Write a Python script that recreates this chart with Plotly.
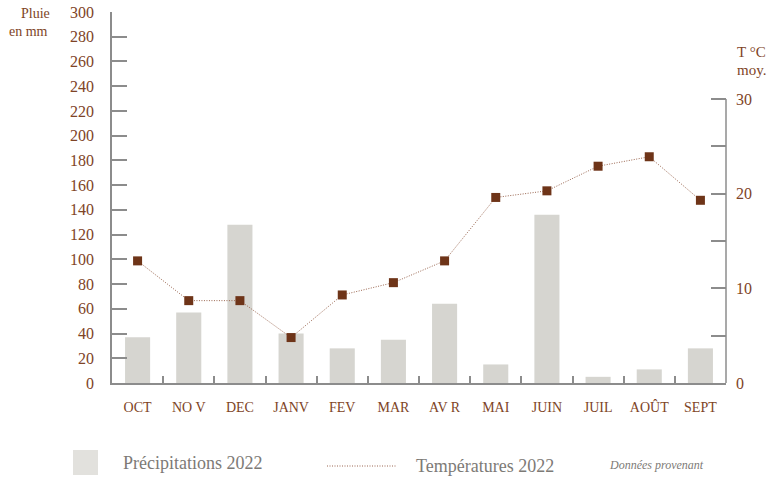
import plotly.graph_objects as go

months = ["OCT", "NO V", "DEC", "JANV", "FEV", "MAR", "AV R", "MAI", "JUIN", "JUIL", "AOÛT", "SEPT"]
rain_mm = [37, 57, 128, 40, 28, 35, 64, 15, 136, 5, 11, 28]
temp_c = [12.9, 8.7, 8.7, 4.8, 9.3, 10.6, 12.9, 19.6, 20.3, 22.9, 23.9, 19.3]
rain_ticks = list(range(0, 301, 20))
temp_ticks = [0, 10, 20, 30]
temp_minor = [5, 15, 25]

W, H = 770, 478
L, R, T, B = 112, 726, 12, 383

def px(x):
    return (x - L) / (R - L)

def py(y):
    return (B - y) / (B - T)

FONT = "Liberation Serif"
BROWN = "#7e4426"
GRAY_TXT = "#7d7a76"
AXIS = "#8c8c8c"
BAR = "#d6d5d0"
DOT = "#9a6650"

fig = go.Figure()
fig.add_trace(go.Bar(x=months, y=rain_mm, marker=dict(color=BAR, line=dict(width=0)),
                     name="Précipitations 2022", showlegend=False, hoverinfo="skip"))
fig.add_trace(go.Scatter(x=months, y=temp_c, yaxis="y2", mode="lines+markers",
                         line=dict(color=DOT, width=1, dash="1px,1.5px"),
                         marker=dict(symbol="square", size=9, color="#6e3418"),
                         name="Températures 2022", showlegend=False, hoverinfo="skip"))

fig.update_layout(
    width=W, height=H,
    margin=dict(l=L, r=W - R, t=T, b=H - B, pad=0, autoexpand=False),
    paper_bgcolor="white", plot_bgcolor="white",
    bargap=0.51,
    font=dict(family=FONT, color=BROWN, size=15),
    xaxis=dict(
        type="category", tickson="boundaries", ticks="inside", ticklen=7,
        tickcolor=AXIS, tickwidth=1.5, showline=True, linecolor=AXIS, linewidth=1.5,
        showgrid=False, zeroline=False, tickfont=dict(family=FONT, size=14, color=BROWN),
        ticklabelstandoff=10, range=[-0.5, 11.5], automargin=False,
    ),
    yaxis=dict(
        range=[0, 300], tickvals=rain_ticks, ticks="inside", ticklen=15,
        tickcolor=AXIS, tickwidth=1.5, showline=True, linecolor=AXIS, linewidth=1.5,
        showgrid=False, zeroline=False, tickfont=dict(family=FONT, size=16, color=BROWN),
        ticklabelstandoff=13, automargin=False,
    ),
    yaxis2=dict(
        overlaying="y", side="right", range=[0, 30 * (B - T) / (383 - 99)],
        tickvals=temp_ticks, ticks="inside", ticklen=15, tickcolor=AXIS, tickwidth=1.5,
        minor=dict(tickvals=temp_minor, ticks="inside", ticklen=15, tickcolor=AXIS, tickwidth=1.5),
        showline=False, showgrid=False, zeroline=False,
        tickfont=dict(family=FONT, size=16, color=BROWN), ticklabelstandoff=9,
        automargin=False,
    ),
)

# right axis line (only up to 30)
fig.add_shape(type="line", xref="paper", yref="y2", x0=1, x1=1, y0=0, y1=30,
              line=dict(color=AXIS, width=1.5))

# axis titles
fig.add_annotation(text="Pluie", xref="paper", yref="paper", x=px(52), y=py(13),
                   xanchor="right", yanchor="middle", showarrow=False,
                   font=dict(family=FONT, size=14, color=BROWN))
fig.add_annotation(text="en mm", xref="paper", yref="paper", x=px(7), y=py(31),
                   xanchor="left", yanchor="middle", showarrow=False,
                   font=dict(family=FONT, size=14, color=BROWN))
fig.add_annotation(text="T °C", xref="paper", yref="paper", x=px(735), y=py(52),
                   xanchor="left", yanchor="middle", showarrow=False,
                   font=dict(family=FONT, size=15, color=BROWN))
fig.add_annotation(text="moy.", xref="paper", yref="paper", x=px(735), y=py(70),
                   xanchor="left", yanchor="middle", showarrow=False,
                   font=dict(family=FONT, size=15, color=BROWN))

# manual legend
fig.add_shape(type="rect", xref="paper", yref="paper", x0=px(73), x1=px(98),
              y0=py(475), y1=py(450), fillcolor="#e2e1dd", line=dict(width=0))
fig.add_annotation(text="Précipitations 2022", xref="paper", yref="paper", x=px(121), y=py(463),
                   xanchor="left", yanchor="middle", showarrow=False,
                   font=dict(family=FONT, size=18, color=GRAY_TXT))
fig.add_shape(type="line", xref="paper", yref="paper", x0=px(327), x1=px(396),
              y0=py(466), y1=py(466), line=dict(color=DOT, width=1, dash="1px,1.5px"))
fig.add_annotation(text="Températures 2022", xref="paper", yref="paper", x=px(414), y=py(466),
                   xanchor="left", yanchor="middle", showarrow=False,
                   font=dict(family=FONT, size=18, color=GRAY_TXT))
fig.add_annotation(text="<i>Données provenant</i>", xref="paper", yref="paper", x=px(607), y=py(465),
                   xanchor="left", yanchor="middle", showarrow=False,
                   font=dict(family=FONT, size=12, color=GRAY_TXT))

fig.write_html("out.html", config={"displayModeBar": False},
               post_script="document.body.style.margin='0';document.body.style.overflow='hidden';")
